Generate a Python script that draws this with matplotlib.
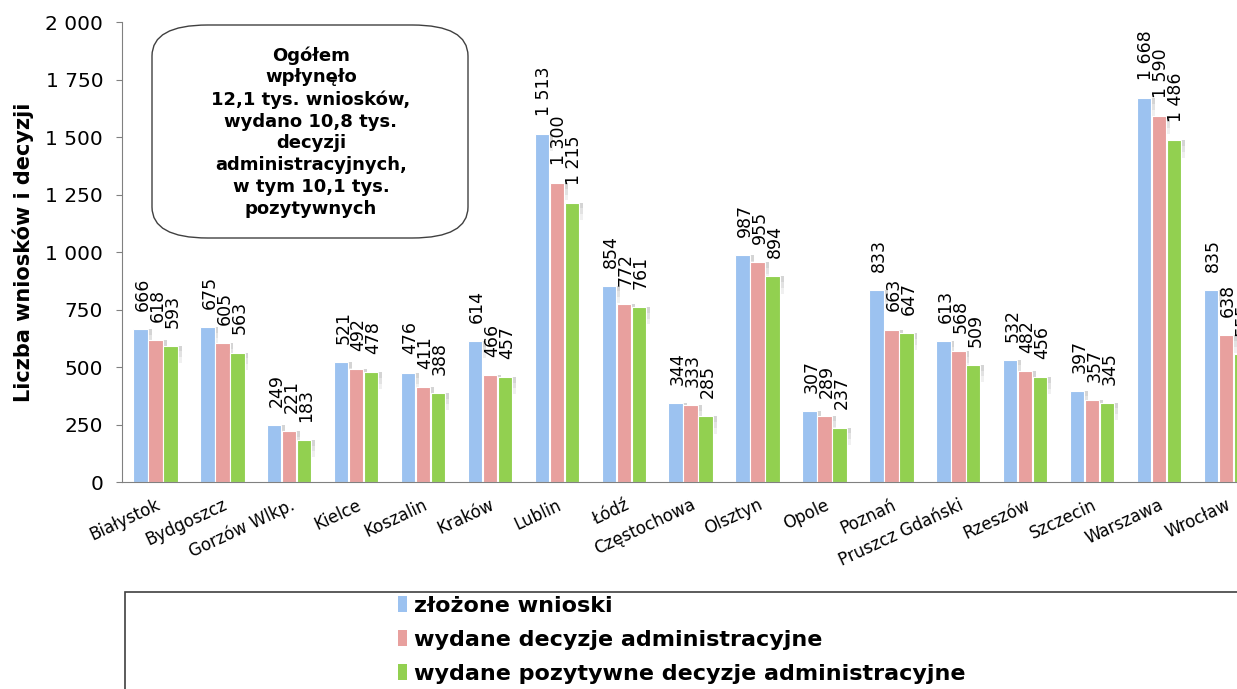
import matplotlib.pyplot as plt
import numpy as np
from matplotlib.patches import FancyBboxPatch, Rectangle, Patch

cities = ['Białystok', 'Bydgoszcz', 'Gorzów Wlkp.', 'Kielce', 'Koszalin', 'Kraków',
          'Lublin', 'Łódź', 'Częstochowa', 'Olsztyn', 'Opole', 'Poznań',
          'Pruszcz Gdański', 'Rzeszów', 'Szczecin', 'Warszawa', 'Wrocław']
wnioski = [666, 675, 249, 521, 476, 614, 1513, 854, 344, 987, 307, 833, 613, 532, 397, 1668, 835]
decyzje = [618, 605, 221, 492, 411, 466, 1300, 772, 333, 955, 289, 663, 568, 482, 357, 1590, 638]
pozytywne = [593, 563, 183, 478, 388, 457, 1215, 761, 285, 894, 237, 647, 509, 456, 345, 1486, 555]
series_names = ['złożone wnioski', 'wydane decyzje administracyjne',
                'wydane pozytywne decyzje administracyjne']
colors = ['#9cc2f0', '#e8a09e', '#92d050']

def fmt(v):
    return f'{v:,}'.replace(',', ' ')

fig = plt.figure(figsize=(12.37, 6.89), dpi=100)
ax = fig.add_axes([0.0986, 0.3004, 0.9195, 0.6676])

x = np.arange(len(cities))
w = 0.215
step = 0.224
for i, (vals, c) in enumerate(zip([wnioski, decyzje, pozytywne], colors)):
    pos = x + (i - 1) * step
    vals = np.array(vals)
    # soft shadow near the bar tops
    for k, a in enumerate([0.45, 0.3, 0.15]):
        ax.bar(pos + 0.08, 25, w * 0.8, bottom=vals - 25 * (k + 1),
               color='#a0a0a0', alpha=a, zorder=1, linewidth=0)
    ax.bar(pos, vals, w, color=c, edgecolor='white', linewidth=0.8, zorder=2)
    for p, v in zip(pos, vals):
        ax.annotate(fmt(v), (p, v), xytext=(1.5, 13), textcoords='offset points',
                    rotation=90, ha='center', va='bottom', fontsize=12.5, clip_on=False)

ax.set_xlim(-0.5, len(cities) - 0.5)
ax.set_ylim(0, 2000)
ax.set_yticks(range(0, 2001, 250))
ax.set_yticklabels([fmt(v) for v in range(0, 2001, 250)], fontsize=14.5)
ax.set_xticks(x)
ax.set_xticklabels(cities, rotation=25, ha='right', rotation_mode='anchor', fontsize=12)
ax.tick_params(axis='x', length=0, pad=10)
ax.tick_params(axis='y', length=4.5, pad=9, color='#808080')
for s in ['top', 'right']:
    ax.spines[s].set_visible(False)
ax.spines['left'].set_color('#808080')
ax.spines['bottom'].set_color('#808080')
ax.set_ylabel('Liczba wniosków i decyzji', fontsize=15, fontweight='bold')
ax.yaxis.set_label_coords(-0.077, 0.5)

# info box
box = FancyBboxPatch((152 / 1237, 1 - 238 / 689), 316 / 1237, 213 / 689,
                     boxstyle='round,pad=0,rounding_size=0.045',
                     transform=fig.transFigure, facecolor='white',
                     edgecolor='#404040', linewidth=1, zorder=5)
fig.patches.append(box)
fig.text(311 / 1237, 1 - 132 / 689,
         'Ogółem\nwpłynęło\n12,1 tys. wniosków,\nwydano 10,8 tys.\ndecyzji\n'
         'administracyjnych,\nw tym 10,1 tys.\npozytywnych',
         ha='center', va='center', fontsize=13, fontweight='bold', linespacing=1.27, zorder=6)

# legend frame
fig.patches.append(Rectangle((125 / 1237, -0.1), 1, 0.1 + 1 - 592 / 689,
                             transform=fig.transFigure, facecolor='white',
                             edgecolor='#404040', linewidth=1.2))
handles = [Patch(facecolor=c) for c in colors]
fig.legend(handles, series_names, loc='upper left', bbox_to_anchor=(398 / 1237, 1 - 596 / 689),
           frameon=False, handlelength=0.4, handleheight=0.7, handletextpad=0.3,
           labelspacing=0.62, borderaxespad=0, borderpad=0,
           prop={'size': 16, 'weight': 'bold'})

fig.savefig('out.png', dpi=100)
